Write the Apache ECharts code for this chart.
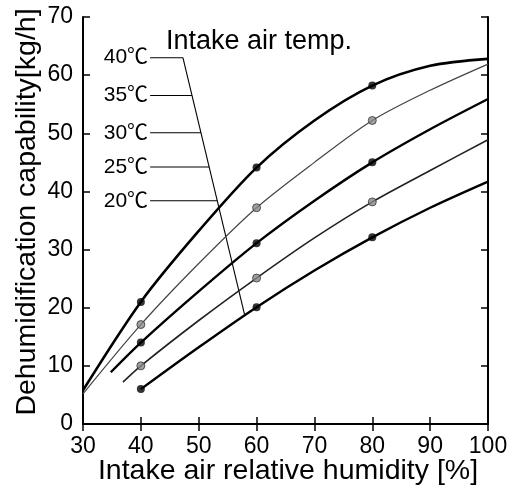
<!DOCTYPE html>
<html><head><meta charset="utf-8">
<script src="https://cdn.jsdelivr.net/npm/echarts@6/dist/echarts.min.js"></script>
<style>html,body{margin:0;padding:0;background:#fff}#c{width:517px;height:490px}</style>
</head><body><div id="c"></div>
<script>
// ---- data ----
const humidityTicks = [30, 40, 50, 60, 70, 80, 90, 100];
const capabilityTicks = [0, 10, 20, 30, 40, 50, 60, 70];
const tempLabels = ['40℃', '35℃', '30℃', '25℃', '20℃'];
const xTitle = 'Intake air relative humidity [%]';
const yTitle = 'Dehumidification capability[kg/h]';
const legendTitle = 'Intake air temp.';
// curves: [humidity %, capability kg/h]
const curve40 = [[30, 5.8], [40, 21.0], [50, 33.2], [60, 44.1], [70, 52.2], [80, 58.2], [90, 61.6], [100, 62.8]];
const curve35 = [[30, 5.2], [40, 17.1], [50, 27.6], [60, 37.2], [70, 45.0], [80, 52.2], [90, 57.4], [100, 61.9]];
const curve30 = [[34.8, 8.9], [40, 14.0], [50, 22.8], [60, 31.1], [70, 38.4], [80, 45.0], [90, 50.7], [100, 55.9]];
const curve25 = [[36.9, 7.2], [40, 10.0], [50, 17.8], [60, 25.1], [70, 32.0], [80, 38.2], [90, 43.6], [100, 48.9]];
const curve20 = [[40, 6.0], [50, 13.2], [60, 20.1], [70, 26.4], [80, 32.1], [90, 37.2], [100, 41.7]];
const measuredHumidity = [40, 60, 80];
// leader lines for the temperature labels (data coordinates)
const leaderStartX = 41.6;
const leaderY = [63.0, 56.5, 50.1, 44.2, 38.4];
const diagonalTop = [47.27, 63.0];
const diagonalBottom = [57.98, 18.6];

// ---- build chart ----
const curves = [curve40, curve35, curve30, curve25, curve20];
const lineStyles = [
  {width: 2.6, color: '#000'},
  {width: 1.2, color: '#444'},
  {width: 2.4, color: '#000'},
  {width: 1.6, color: '#222'},
  {width: 2.4, color: '#000'}
];
const markerStyles = [
  {color: '#000'},
  {color: '#888', borderColor: '#333', borderWidth: 1},
  {color: '#000'},
  {color: '#888', borderColor: '#333', borderWidth: 1},
  {color: '#000'}
];
const FONT = '"Liberation Sans", Arial, Helvetica, sans-serif';

function diagX(y) {
  return diagonalTop[0] + (diagonalTop[1] - y) / (diagonalTop[1] - diagonalBottom[1]) * (diagonalBottom[0] - diagonalTop[0]);
}

const series = [];
curves.forEach((c, i) => {
  series.push({
    type: 'line', data: c, smooth: 0.3, showSymbol: false, symbol: 'none',
    lineStyle: lineStyles[i], z: 3, silent: true
  });
  series.push({
    type: 'scatter', data: c.filter(p => measuredHumidity.includes(p[0])),
    symbol: 'circle', symbolSize: 8, itemStyle: markerStyles[i], z: 4, silent: true
  });
});
leaderY.forEach((y, i) => {
  series.push({
    type: 'line', symbol: 'none', silent: true, z: 2,
    lineStyle: {width: 1.1, color: '#000'},
    data: [[leaderStartX, y], [diagX(y), y]]
  });
});
series.push({
  type: 'line', symbol: 'none', silent: true, z: 2,
  lineStyle: {width: 1.1, color: '#000'},
  data: [diagonalTop, diagonalBottom]
});
series.push({
  type: 'scatter', silent: true, z: 5, symbolSize: 0,
  itemStyle: {color: '#000', opacity: 1},
  data: leaderY.map((y, i) => ({value: [leaderStartX, y], name: tempLabels[i]})),
  label: {show: true, position: 'left', distance: 2, formatter: p => p.name,
    color: '#000', opacity: 1, fontSize: 21, fontWeight: 'normal',
    fontFamily: '"Liberation Sans", "Noto Sans CJK JP", sans-serif'}
});

const axisCommon = {
  axisLine: {show: true, lineStyle: {color: '#000', width: 2}},
  axisTick: {show: true, inside: true, length: 7, lineStyle: {color: '#000', width: 1.5}},
  splitLine: {show: false}
};

const chart = echarts.init(document.getElementById('c'), null, {renderer: 'canvas'});
chart.setOption({
  animation: false,
  backgroundColor: '#fff',
  grid: {left: 83, right: 29, top: 17, bottom: 66, containLabel: false},
  xAxis: [
    Object.assign({type: 'value', min: humidityTicks[0], max: humidityTicks[humidityTicks.length - 1], interval: 10,
      position: 'bottom',
      axisLabel: {color: '#000', fontSize: 23, fontFamily: FONT, margin: 11,
        formatter: v => humidityTicks.includes(v) ? String(v) : ''}}, axisCommon),
    Object.assign({type: 'value', min: humidityTicks[0], max: humidityTicks[humidityTicks.length - 1], interval: 10,
      position: 'top', axisLabel: {show: false}}, axisCommon)
  ],
  yAxis: [
    Object.assign({type: 'value', min: capabilityTicks[0], max: capabilityTicks[capabilityTicks.length - 1], interval: 10,
      position: 'left',
      axisLabel: {color: '#000', fontSize: 23, fontFamily: FONT, margin: 10,
        formatter: v => capabilityTicks.includes(v) ? String(v) : ''}}, axisCommon),
    Object.assign({type: 'value', min: capabilityTicks[0], max: capabilityTicks[capabilityTicks.length - 1], interval: 10,
      position: 'right', axisLabel: {show: false}}, axisCommon)
  ],
  graphic: [
    {type: 'text', x: 288, y: 471, style: {text: xTitle, fill: '#000', font: '28.5px ' + FONT, align: 'center', verticalAlign: 'middle'}},
    {type: 'text', x: 27, y: 212, rotation: Math.PI / 2, style: {text: yTitle, fill: '#000', font: '28.5px ' + FONT, align: 'center', verticalAlign: 'middle'}},
    {type: 'text', x: 166, y: 42, style: {text: legendTitle, fill: '#000', font: '27px ' + FONT, align: 'left', verticalAlign: 'middle'}}
  ],
  series: series
});
</script>
</body></html>
